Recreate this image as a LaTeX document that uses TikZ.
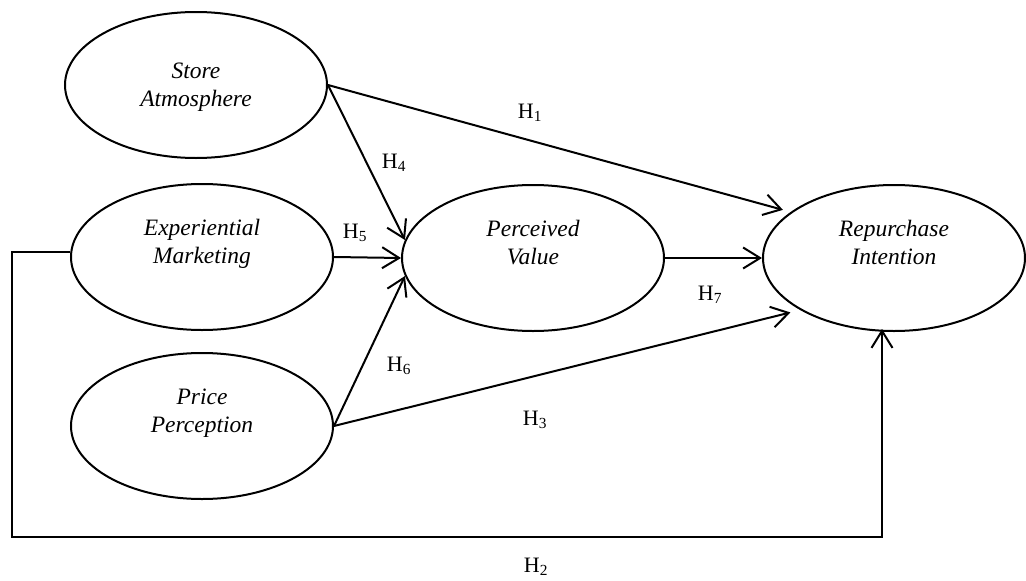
\documentclass[tikz,border=0pt]{standalone}
\usepackage{fontspec}
\setmainfont{Liberation Serif}
\usetikzlibrary{shapes.geometric,arrows.meta}
\begin{document}
\begin{tikzpicture}[x=1pt, y=-1pt, line width=2pt,
  var/.style={ellipse, draw, minimum width=262pt, minimum height=146pt, inner sep=0pt,
    align=center, font=\fontsize{23.5}{28}\selectfont\itshape},
  low/.style={text depth=31pt},
  hyp/.style={-{Straight Barb[length=17pt,width=21pt]}},
  lab/.style={font=\fontsize{22}{26}\selectfont}]
\useasboundingbox (0,0) rectangle (1026,581);
\node (SA) at (196,85) [var,text depth=0pt] {Store\\Atmosphere};
\node (EM) at (202,257) [var,low] {Experiential\\Marketing};
\node (PP) at (202,426) [var,low] {Price\\Perception};
\node (PV) at (533,258) [var,low] {Perceived\\Value};
\node (RI) at (894,258) [var,low] {Repurchase\\Intention};

\coordinate (BL) at (12,537);
\coordinate (BR) at (882,537);

\draw[hyp, shorten >=8pt] (SA.east) to (RI.156);
\draw[hyp] (SA.east) to (PV.172);
\draw[hyp] (EM.east) to (PV.west);
\draw[hyp] (PP.east) to (PV.188);
\draw[hyp, shorten >=10pt] (PP.east) to (RI.209);
\draw[hyp] (PV.east) to (RI.west);
\draw[hyp, shorten >=-3pt] (EM.178) -| (BL) -- (BR) -- (BR |- RI.south);

\node (H1) at (530,113) [lab] {H\textsubscript{1}};
\node (H2) at (536,567) [lab] {H\textsubscript{2}};
\node (H3) at (535,420) [lab] {H\textsubscript{3}};
\node (H4) at (394,163) [lab] {H\textsubscript{4}};
\node (H5) at (355,233) [lab] {H\textsubscript{5}};
\node (H6) at (399,366) [lab] {H\textsubscript{6}};
\node (H7) at (710,295) [lab] {H\textsubscript{7}};
\end{tikzpicture}
\end{document}
